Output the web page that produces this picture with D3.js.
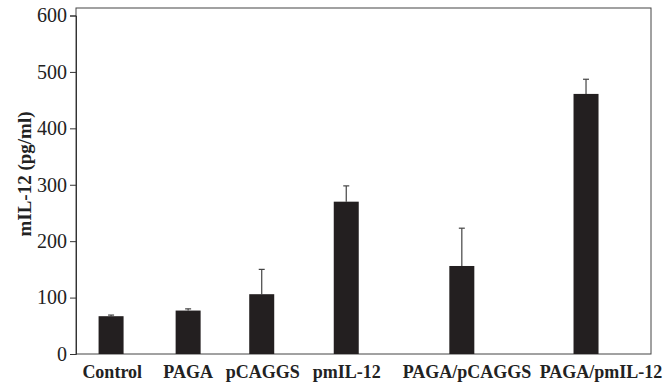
<!DOCTYPE html>
<html>
<head>
<meta charset="utf-8">
<script src="https://cdn.jsdelivr.net/npm/d3@7"></script>
<style>
  html, body { margin: 0; padding: 0; background: #fff; }
  svg { display: block; }
</style>
</head>
<body>
<svg id="chart" width="663" height="385"></svg>
<script>
// Serum mIL-12 levels per treatment group (mean and upper error)
const categories = ["Control", "PAGA", "pCAGGS", "pmIL-12", "PAGA/pCAGGS", "PAGA/pmIL-12"];
const means = [67, 77, 106, 270, 156, 461];
const errors = [2, 3, 44, 28, 67, 26];
const yTicks = [0, 100, 200, 300, 400, 500, 600];
const yTitle = "mIL-12 (pg/ml)";

const W = 663, H = 385;
const plot = { left: 76, right: 651, top: 8, bottom: 354 };
const svg = d3.select("#chart");

// Bars sit at uneven slots along the axis, widening toward the combined treatments;
// the long combined labels are nudged right of their bars
const barSlots = [0.061, 0.195, 0.323, 0.470, 0.671, 0.887];
const labelSlots = [0.063, 0.195, 0.325, 0.471, 0.680, 0.913];
const toPx = f => plot.left + f * (plot.right - plot.left);
const x = d3.scaleOrdinal().domain(categories).range(barSlots.map(toPx));
const xLabel = d3.scaleOrdinal().domain(categories).range(labelSlots.map(toPx));
const barW = 25;

const y = d3.scaleLinear().domain([0, 600]).range([plot.bottom, 15.5]);

const ink = "#231f20";
const serif = "'Liberation Serif', 'Times New Roman', serif";

// Frame
svg.append("rect")
  .attr("x", plot.left).attr("y", plot.top)
  .attr("width", plot.right - plot.left).attr("height", plot.bottom - plot.top)
  .attr("fill", "none").attr("stroke", "#444").attr("stroke-width", 1);

// Y axis
const yAxis = svg.append("g")
  .attr("transform", `translate(${plot.left},0)`)
  .call(d3.axisLeft(y).tickValues(yTicks).tickSize(6).tickPadding(3).tickFormat(d3.format("d")));
yAxis.select(".domain").attr("stroke", "#333");
yAxis.selectAll(".tick line").attr("stroke", "#333");
yAxis.selectAll(".tick text")
  .attr("font-family", serif).attr("font-size", 20).attr("fill", "#222");

// Y title
svg.append("text")
  .attr("transform", `translate(31,174) rotate(-90)`)
  .attr("text-anchor", "middle")
  .attr("font-family", serif).attr("font-weight", "bold").attr("font-size", 19)
  .attr("fill", "#222")
  .text(yTitle);

const data = categories.map((c, i) => ({ c, m: means[i], e: errors[i] }));

// Error bars (upper only)
const eb = svg.append("g").attr("stroke", "#444").attr("stroke-width", 1.2);
eb.selectAll("line.v").data(data).join("line").attr("class", "v")
  .attr("x1", d => x(d.c)).attr("x2", d => x(d.c))
  .attr("y1", d => y(d.m)).attr("y2", d => y(d.m + d.e));
eb.selectAll("line.cap").data(data).join("line").attr("class", "cap")
  .attr("x1", d => x(d.c) - 3).attr("x2", d => x(d.c) + 3)
  .attr("y1", d => y(d.m + d.e)).attr("y2", d => y(d.m + d.e));

// Bars
svg.append("g").selectAll("rect").data(data).join("rect")
  .attr("x", d => x(d.c) - barW / 2)
  .attr("width", barW)
  .attr("y", d => y(d.m))
  .attr("height", d => y(0) - y(d.m))
  .attr("fill", ink);

// Category labels
svg.append("g").selectAll("text").data(data).join("text")
  .attr("x", d => xLabel(d.c))
  .attr("y", 378)
  .attr("text-anchor", "middle")
  .attr("font-family", serif).attr("font-weight", "bold").attr("font-size", 18)
  .attr("fill", "#222")
  .text(d => d.c);
</script>
</body>
</html>
